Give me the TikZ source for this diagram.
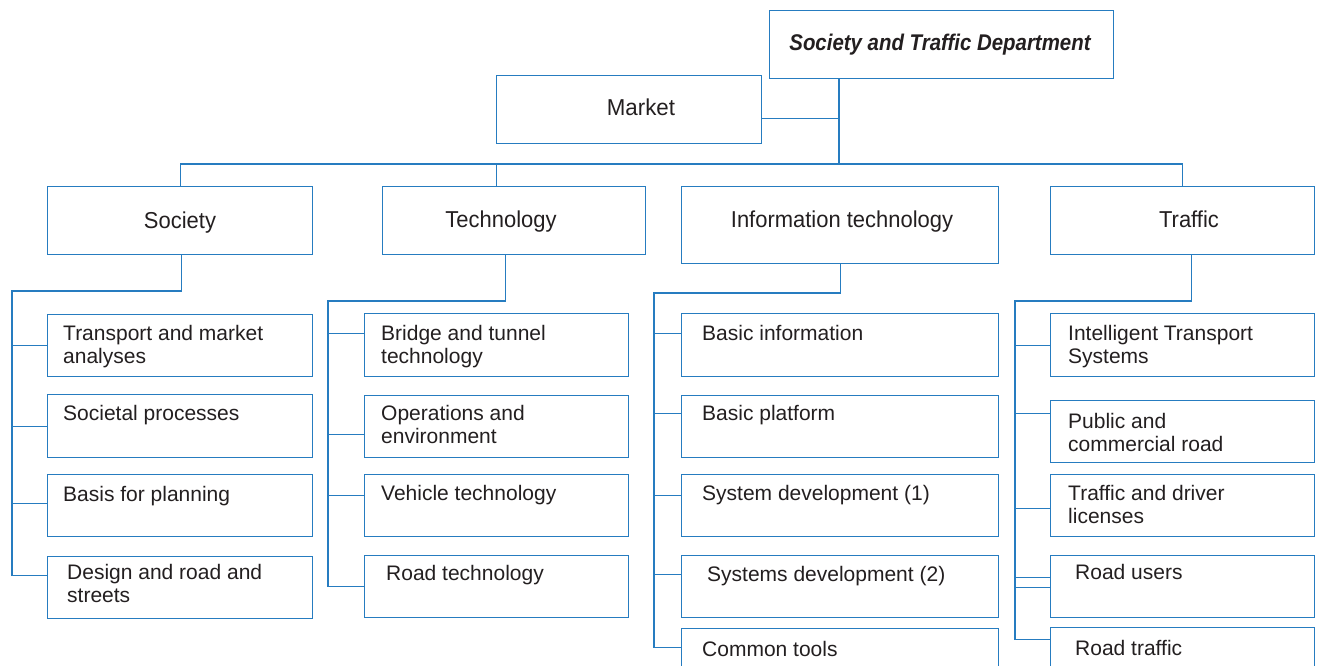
\documentclass[tikz,border=0pt]{standalone}
\usepackage{fontspec}
\usepackage{graphicx}
\setmainfont{Liberation Sans}
\definecolor{linec}{RGB}{38,124,192}
\definecolor{textc}{RGB}{35,31,32}
\begin{document}
\begin{tikzpicture}[x=1pt,y=-1pt,
  box/.style={draw=linec,line width=1.2pt,rectangle,inner sep=0pt,anchor=north west},
  conn/.style={draw=linec,line width=1.2pt},
  child/.style={anchor=base west,inner sep=0pt,text=textc,align=left,font=\fontsize{21}{22.8}\selectfont},
  lvl/.style={anchor=base,inner sep=0pt,text=textc,font=\fontsize{23}{26}\selectfont},
  ttl/.style={anchor=base,inner sep=0pt,text=textc,font=\fontsize{22.7}{26}\selectfont\bfseries\itshape}]
\useasboundingbox (0,0) rectangle (1318,666);
\clip (0,0) rectangle (1318,666);
\fill[white] (0,0) rectangle (1318,666);

% top level
\node[box,minimum width=344pt,minimum height=68pt] (dept) at (769,10) {};
\node[ttl] (deptt) at (940,51) {\scalebox{0.9}[1]{Society and Traffic Department}};
\node[box,minimum width=265pt,minimum height=68pt] (mkt) at (496,75) {};
\node[lvl] (mktt) at (641,116) {\scalebox{0.97}[1]{Market}};
\coordinate (bus) at (839,164);

% level 2
\node[box,minimum width=265pt,minimum height=68pt] (soc) at (47,186) {};
\node[lvl] (soct) at (180,228) {\scalebox{0.955}[1]{Society}};
\node[box,minimum width=263pt,minimum height=68pt] (tec) at (382,186) {};
\node[lvl] (tect) at (501,227) {\scalebox{0.955}[1]{Technology}};
\node[box,minimum width=317pt,minimum height=77pt] (itb) at (681,186) {};
\node[lvl] (itbt) at (842,227) {\scalebox{0.955}[1]{Information technology}};
\node[box,minimum width=264pt,minimum height=68pt] (tra) at (1050,186) {};
\node[lvl] (trat) at (1189,227) {\scalebox{0.955}[1]{Traffic}};

% Society children
\node[box,minimum width=265pt,minimum height=62pt] (s1) at (47,314) {};
\node[box,minimum width=265pt,minimum height=63pt] (s2) at (47,394) {};
\node[box,minimum width=265pt,minimum height=62pt] (s3) at (47,474) {};
\node[box,minimum width=265pt,minimum height=62pt] (s4) at (47,556) {};
\node[child] (s1t) at (63,363) {Transport and market\\analyses};
\node[child] (s2t) at (63,420) {Societal processes};
\node[child] (s3t) at (63,501) {Basis for planning};
\node[child] (s4t) at (67,602) {Design and road and\\streets};

% Technology children
\node[box,minimum width=264pt,minimum height=63pt] (t1) at (364,313) {};
\node[box,minimum width=264pt,minimum height=62pt] (t2) at (364,395) {};
\node[box,minimum width=264pt,minimum height=62pt] (t3) at (364,474) {};
\node[box,minimum width=264pt,minimum height=62pt] (t4) at (364,555) {};
\node[child] (t1t) at (381,363) {Bridge and tunnel\\technology};
\node[child] (t2t) at (381,443) {Operations and\\environment};
\node[child] (t3t) at (381,500) {Vehicle technology};
\node[child] (t4t) at (386,580) {Road technology};

% IT children
\node[box,minimum width=317pt,minimum height=63pt] (i1) at (681,313) {};
\node[box,minimum width=317pt,minimum height=62pt] (i2) at (681,395) {};
\node[box,minimum width=317pt,minimum height=62pt] (i3) at (681,474) {};
\node[box,minimum width=317pt,minimum height=62pt] (i4) at (681,555) {};
\node[box,minimum width=317pt,minimum height=62pt] (i5) at (681,628) {};
\node[child] (i1t) at (702,340) {Basic information};
\node[child] (i2t) at (702,420) {Basic platform};
\node[child] (i3t) at (702,500) {System development (1)};
\node[child] (i4t) at (707,581) {Systems development (2)};
\node[child] (i5t) at (702,656) {Common tools};

% Traffic children
\node[box,minimum width=264pt,minimum height=63pt] (r1) at (1050,313) {};
\node[box,minimum width=264pt,minimum height=62pt] (r2) at (1050,400) {};
\node[box,minimum width=264pt,minimum height=62pt] (r3) at (1050,474) {};
\node[box,minimum width=264pt,minimum height=62pt] (r4) at (1050,555) {};
\node[box,minimum width=264pt,minimum height=62pt] (r5) at (1050,627) {};
\node[child] (r1t) at (1068,363) {Intelligent Transport\\Systems};
\node[child] (r2t) at (1068,451) {Public and\\commercial road};
\node[child] (r3t) at (1068,523) {Traffic and driver\\licenses};
\node[child] (r4t) at (1075,579) {Road users};
\node[child] (r5t) at (1075,655) {Road traffic};

% top connectors
\draw[conn] (dept.south -| bus) -- (bus);
\draw[conn] ([yshift=-9pt]mkt.east) -- ([yshift=-9pt]mkt.east -| bus);
\draw[conn] (soc.north) |- (bus) -| (tra.north);
\draw[conn] ([xshift=-18pt]tec.north) -- ([xshift=-18pt]tec.north |- bus);

% Society branch
\coordinate (sv) at (12,291);
\draw[conn] ([xshift=1.5pt]soc.south) |- (sv) |- ([yshift=12pt]s4.west);
\draw[conn] (sv |- s1.west) -- (s1.west);
\draw[conn] (sv |- s2.west) -- (s2.west);
\draw[conn] ([yshift=2pt]sv |- s3.west) -- ([yshift=2pt]s3.west);

% Technology branch
\coordinate (tv) at (328,301);
\draw[conn] ([xshift=-8.5pt]tec.south) |- (tv) |- (t4.west);
\draw[conn] ([yshift=11.5pt]tv |- t1.west) -- ([yshift=11.5pt]t1.west);
\draw[conn] ([yshift=-8pt]tv |- t2.west) -- ([yshift=-8pt]t2.west);
\draw[conn] ([yshift=10pt]tv |- t3.west) -- ([yshift=10pt]t3.west);

% IT branch
\coordinate (iv) at (654,293);
\draw[conn] (itb.south) |- (iv) |- ([yshift=12pt]i5.west);
\draw[conn] ([yshift=11.5pt]iv |- i1.west) -- ([yshift=11.5pt]i1.west);
\draw[conn] ([yshift=13pt]iv |- i2.west) -- ([yshift=13pt]i2.west);
\draw[conn] ([yshift=10pt]iv |- i3.west) -- ([yshift=10pt]i3.west);
\draw[conn] ([yshift=12pt]iv |- i4.west) -- ([yshift=12pt]i4.west);

% Traffic branch
\coordinate (rv) at (1015,301);
\draw[conn] ([xshift=9pt]tra.south) |- (rv) |- ([yshift=19pt]r5.west);
\draw[conn] (rv |- r1.west) -- (r1.west);
\draw[conn] ([yshift=18pt]rv |- r2.west) -- ([yshift=18pt]r2.west);
\draw[conn] ([yshift=-3pt]rv |- r3.west) -- ([yshift=-3pt]r3.west);
\draw[conn] ([yshift=9pt]rv |- r4.west) -- ([yshift=9pt]r4.west);
\draw[conn] ([yshift=-1pt]rv |- r4.west) -- ([yshift=-1pt]r4.west);
\end{tikzpicture}
\end{document}
